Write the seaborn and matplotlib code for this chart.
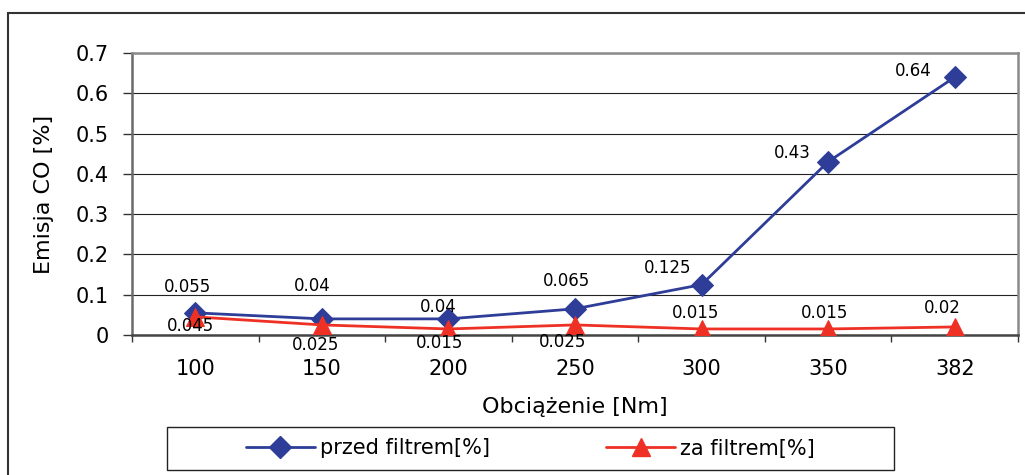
import matplotlib
matplotlib.use("Agg")
import matplotlib.pyplot as plt
import seaborn as sns
import pandas as pd
from matplotlib.patches import Rectangle
from matplotlib.lines import Line2D
from matplotlib.ticker import FixedLocator

# ---- data ----
categories = ["100", "150", "200", "250", "300", "350", "382"]
przed_filtrem = [0.055, 0.04, 0.04, 0.065, 0.125, 0.43, 0.64]
za_filtrem = [0.045, 0.025, 0.015, 0.025, 0.015, 0.015, 0.02]
yticks = [0, 0.1, 0.2, 0.3, 0.4, 0.5, 0.6, 0.7]
ytick_labels = ["0", "0.1", "0.2", "0.3", "0.4", "0.5", "0.6", "0.7"]
series_names = ["przed filtrem[%]", "za filtrem[%]"]
xlabel = "Obciążenie [Nm]"
ylabel = "Emisja CO [%]"

# label offsets in pixels (layout only)
off_przed = [(-8, 26), (-10, 33), (-10, 12), (-9, 28), (-34, 17), (-36, 9), (-41, 6)]
off_za = [(-5, -9), (-6, -20), (-9, -14), (-12, -17), (-6, 16), (-4, 16), (-12, 19)]

BLUE = "#2E3D98"
RED = "#EE3124"

sns.set_theme(style="white")
plt.rcParams['font.family'] = ['DejaVu Sans']
plt.rcParams['text.color'] = 'black'
plt.rcParams['axes.labelcolor'] = 'black'
plt.rcParams['xtick.color'] = 'black'
plt.rcParams['ytick.color'] = 'black'

W, H = 1025, 475
fig = plt.figure(figsize=(W / 100, H / 100), dpi=100)
fig.patch.set_facecolor("white")
ax = fig.add_axes([132 / W, 1 - 335 / H, (1018 - 132) / W, (335 - 53) / H])

df = pd.DataFrame({"Obciazenie": categories, "przed": przed_filtrem, "za": za_filtrem})

sns.lineplot(data=df, x="Obciazenie", y="przed", ax=ax, color=BLUE, marker="D",
             markersize=11, linewidth=2, sort=False, markeredgecolor=BLUE, zorder=3)
sns.lineplot(data=df, x="Obciazenie", y="za", ax=ax, color=RED, marker="^",
             markersize=13, linewidth=2, sort=False, markeredgecolor=RED, zorder=3)

for i, (v, o) in enumerate(zip(przed_filtrem, off_przed)):
    ax.annotate(f"{v:g}", (i, v), xytext=o, textcoords="offset pixels",
                ha="center", va="center", fontsize=12, color="black")
for i, (v, o) in enumerate(zip(za_filtrem, off_za)):
    ax.annotate(f"{v:g}", (i, v), xytext=o, textcoords="offset pixels",
                ha="center", va="center", fontsize=12, color="black")

ax.set_xlim(-0.5, len(categories) - 0.5)
ax.set_ylim(0, 0.7)
ax.set_yticks(yticks)
ax.set_yticklabels(ytick_labels, fontsize=15, color="black")
ax.set_xticks(range(len(categories)))
ax.set_xticklabels(categories, fontsize=15, color="black")
ax.xaxis.set_minor_locator(FixedLocator([i - 0.5 for i in range(len(categories) + 1)]))
ax.tick_params(axis="x", which="major", length=0, pad=17)
ax.tick_params(axis="x", which="minor", length=5, width=1, color="#333333", direction="out", bottom=True)
ax.tick_params(axis="y", which="major", length=6.5, width=1, color="#333333", direction="out", left=True, pad=10)

ax.yaxis.grid(True, color="#222222", linewidth=0.8)
ax.xaxis.grid(False)
ax.set_axisbelow(True)

for side in ["top", "right"]:
    ax.spines[side].set_color("#8a8a8a")
    ax.spines[side].set_linewidth(1.8)
ax.spines["left"].set_color("#6a6a6a")
ax.spines["left"].set_linewidth(1.8)
ax.spines["bottom"].set_color("#444444")
ax.spines["bottom"].set_linewidth(1.8)

ax.set_xlabel(xlabel, fontsize=16, labelpad=13, color="black")
ax.set_ylabel(ylabel, fontsize=16, labelpad=16, color="black")

# legend
handles = [
    Line2D([], [], color=BLUE, marker="D", markersize=11, linewidth=2),
    Line2D([], [], color=RED, marker="^", markersize=13, linewidth=2),
]
fig.legend(handles, series_names, loc="center", bbox_to_anchor=(530.5 / W, 1 - 448.5 / H),
           ncol=2, frameon=False, handlelength=3.3, handletextpad=0.25, columnspacing=5.6,
           fontsize=15, labelcolor="black")
fig.patches.append(Rectangle((167 / W, 1 - 470 / H), 727 / W, 43 / H, transform=fig.transFigure,
                             fill=False, edgecolor="#222222", linewidth=1))
# outer chart border
fig.patches.append(Rectangle((8 / W, -0.05), 1.2, 1 - 13 / H + 0.05, transform=fig.transFigure,
                             fill=False, edgecolor="#333333", linewidth=1.5))

fig.savefig("out.png", dpi=100)
